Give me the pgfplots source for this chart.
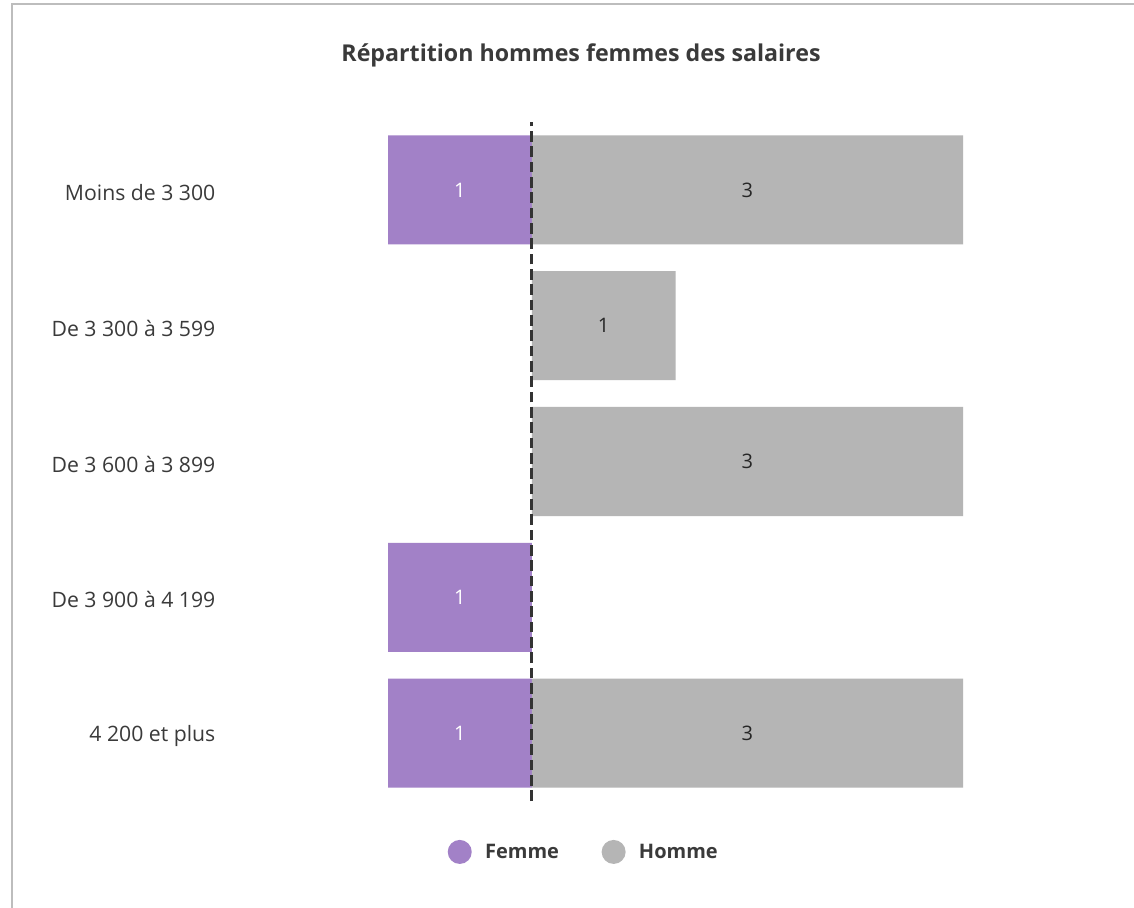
\documentclass[border=0pt]{standalone}
\usepackage{pgfplots}
\pgfplotsset{compat=1.18}
\usepackage{fontspec}
\setmainfont{Open Sans}
\definecolor{femme}{HTML}{A281C7}
\definecolor{homme}{HTML}{B5B5B5}
\definecolor{txt}{HTML}{3A3A3A}
\definecolor{cadre}{HTML}{BDBDBD}

\begin{document}
\begin{tikzpicture}
\useasboundingbox (0,0) rectangle (850.5pt,680.25pt);
\fill[white] (0,0) rectangle (850.5pt,680.25pt);
\draw[cadre, line width=1.5pt] (9pt,-5pt) -- (9pt,676.9pt) -- (860pt,676.9pt);
\node[font=\fontsize{17.4}{19}\selectfont\bfseries, text=txt] at (435.75pt,638.5pt)
  {Répartition hommes femmes des salaires};
\begin{axis}[
    at={(291pt,79.5pt)}, anchor=south west,
    scale only axis, width=431.25pt, height=509.25pt,
    xmin=-1, xmax=3, ymin=-0.5, ymax=4.5,
    axis line style={draw=none},
    xtick=\empty,
    ytick={0,1,2,3,4},
    yticklabels={4 200 et plus, De 3 900 à 4 199, De 3 600 à 3 899, De 3 300 à 3 599, Moins de 3 300},
    major tick length=0pt,
    yticklabel style={font=\fontsize{15.9}{18}\selectfont, text=txt, anchor=east, xshift=-126pt, yshift=-2pt},
    clip=false,
    legend style={at={(axis description cs:0.341,-0.075)}, anchor=center, draw=none,
      legend columns=2, font=\fontsize{15}{17}\selectfont\bfseries, text=txt,
      /tikz/every even column/.append style={column sep=30pt}},
  ]
  % Femme (à gauche de zéro)
  \addplot[xbar, bar width=0.803, bar shift=0pt, fill=femme, draw=none,
    legend image code/.code={\fill[femme] (0pt,0pt) circle (9pt); \path (17pt,0pt);}]
    coordinates {(-1,4) (-1,1) (-1,0)};
  \addlegendentry{Femme}
  % Homme (à droite de zéro)
  \addplot[xbar, bar width=0.803, bar shift=0pt, fill=homme, draw=none,
    legend image code/.code={\fill[homme] (0pt,0pt) circle (9pt); \path (17pt,0pt);}]
    coordinates {(3,4) (1,3) (3,2) (3,0)};
  \addlegendentry{Homme}
  % étiquettes
  \addplot[forget plot, only marks, mark=none, point meta=explicit symbolic,
    nodes near coords, nodes near coords style={anchor=center, text=white, font=\fontsize{15}{17}\selectfont}]
    coordinates {(-0.5,4) [1] (-0.5,1) [1] (-0.5,0) [1]};
  \addplot[forget plot, only marks, mark=none, point meta=explicit symbolic,
    nodes near coords, nodes near coords style={anchor=center, text=black!85, font=\fontsize{15}{17}\selectfont}]
    coordinates {(1.5,4) [3] (0.5,3) [1] (1.5,2) [3] (1.5,0) [3]};
  % ligne de référence
  \addplot[forget plot, color=black!80, line width=2.2pt, dash pattern=on 8pt off 3.5pt]
    coordinates {(0,-0.5) (0,4.5)};
\end{axis}
\end{tikzpicture}
\end{document}
